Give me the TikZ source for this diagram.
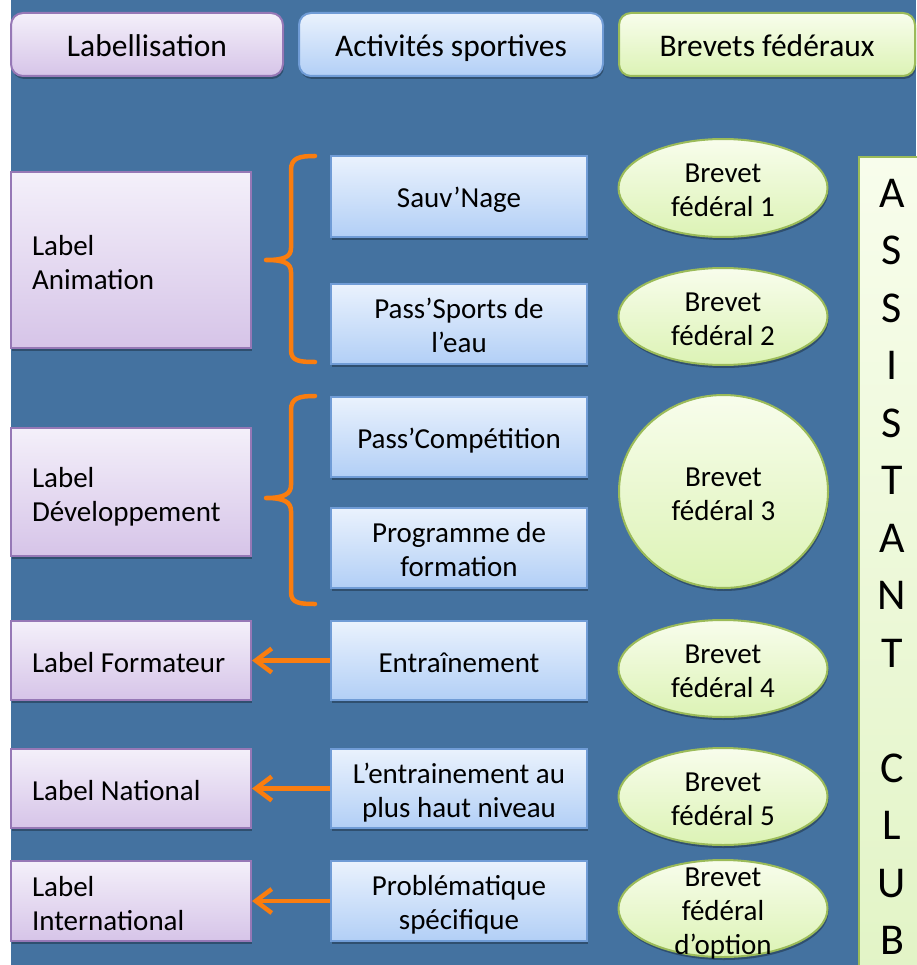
\documentclass[tikz,border=0pt]{standalone}
\usepackage{fontspec}
\setmainfont{Carlito}
\usetikzlibrary{shapes.geometric,shadows,arrows.meta}
\definecolor{bg}{RGB}{68,114,160}
\definecolor{labT}{RGB}{244,240,250}
\definecolor{labB}{RGB}{214,196,232}
\definecolor{labD}{RGB}{150,120,182}
\definecolor{actT}{RGB}{234,242,253}
\definecolor{actB}{RGB}{178,207,246}
\definecolor{actD}{RGB}{112,156,214}
\definecolor{brvT}{RGB}{248,253,236}
\definecolor{brvB}{RGB}{220,243,181}
\definecolor{brvD}{RGB}{155,187,89}
\definecolor{clubB}{RGB}{226,244,198}
\definecolor{orng}{RGB}{250,125,15}
\tikzset{
  shd/.style={drop shadow={shadow xshift=1pt,shadow yshift=-3pt,opacity=0.3,fill=black}},
  body/.style={font=\fontsize{29}{34}\selectfont, text=black,
    execute at begin node={\rule{0pt}{28pt}}, execute at end node={\rule[-5pt]{0pt}{5pt}}},
  ml/.style={execute at begin node={\rule{0pt}{30pt}}},
  head/.style={rounded corners=12pt, line width=2pt, minimum height=63pt, inner sep=0pt,
    font=\fontsize{31.5}{37}\selectfont, text=black, shd,
    execute at begin node={\rule{0pt}{31pt}}, execute at end node={\rule[-6pt]{0pt}{6pt}}},
  labbox/.style={rectangle, draw=labD, line width=2pt, top color=labT, bottom color=labB,
    minimum width=240pt, text width=198pt, inner xsep=21pt, inner ysep=0pt, align=flush left, body, shd},
  actbox/.style={rectangle, draw=actD, line width=2pt, top color=actT, bottom color=actB,
    minimum width=256pt, minimum height=80pt, text width=250pt, inner sep=0pt, align=flush center, body, shd},
  bfell/.style={ellipse, draw=brvD, line width=2pt, top color=brvT, bottom color=brvB,
    minimum width=209pt, minimum height=97pt, text width=146pt, inner sep=0pt, align=flush center, body, shd},
  brace/.style={draw=orng, line width=4.5pt, line cap=round, line join=round},
  arr/.style={draw=orng, line width=4.5pt, -{Straight Barb[length=16pt,width=24pt]}}
}
\begin{document}
\begin{tikzpicture}[x=1pt,y=-1pt]
\useasboundingbox (0,0) rectangle (916,965);
\fill[white] (0,0) rectangle (916,965);
\fill[bg] (11,0) rectangle (916,965);

% headers
\node[head, draw=labD, top color=labT, bottom color=labB, minimum width=272pt] (hlab) at (147,44.5) {Labellisation};
\node[head, draw=actD, top color=actT, bottom color=actB, minimum width=304pt] (hact) at (451,44.5) {Activités sportives};
\node[head, draw=brvD, top color=brvT, bottom color=brvB, minimum width=296pt] (hbrv) at (767,44.5) {Brevets fédéraux};

% labels
\node[labbox, ml, minimum height=176pt] (lan) at (131,260) {Label\\Animation};
\node[labbox, ml, minimum height=128pt] (ldv) at (131,492) {Label\\Développement};
\node[labbox, minimum height=79pt] (lfo) at (131,660.5) {Label Formateur};
\node[labbox, minimum height=79pt] (lna) at (131,788.5) {Label National};
\node[labbox, ml, minimum height=80pt] (lin) at (131,901) {Label\\International};

% activities
\node[actbox, minimum height=81pt] (sauv) at (459,196.5) {Sauv’Nage};
\node[actbox] (pass) at (459,324) {Pass’Sports de\\l’eau};
\node[actbox] (comp) at (459,437) {Pass’Compétition};
\node[actbox] (prog) at (459,548) {Programme de\\formation};
\node[actbox, minimum height=79pt] (entr) at (459,660.5) {Entraînement};
\node[actbox, minimum height=79pt] (haut) at (459,788.5) {L’entrainement au\\plus haut niveau};
\node[actbox] (prob) at (459,901) {Problématique\\spécifique};

% brevets
\node[bfell, minimum height=98pt] (bf1) at (723,188) {Brevet\\fédéral 1};
\node[bfell] (bf2) at (723,316.5) {Brevet\\fédéral 2};
\node[bfell, minimum height=193pt] (bf3) at (723.5,491.5) {Brevet\\fédéral 3};
\node[bfell] (bf4) at (723,668.5) {Brevet\\fédéral 4};
\node[bfell] (bf5) at (723,796.5) {Brevet\\fédéral 5};
\node[bfell, text width=, execute at begin node={}, execute at end node={},
  label={[body, text width=146pt, align=flush center, inner sep=0pt]center:Brevet\\fédéral\\d’option}] (bf6) at (723,908.5) {};

% assistant club column
\node[rectangle, draw=brvD, line width=2pt, top color=brvT, bottom color=clubB,
  minimum width=66pt, minimum height=820pt, anchor=north west, inner sep=0pt, align=center,
  font=\fontsize{44}{57.5}\selectfont, shd] (club) at (858,156)
  {A\\S\\S\\I\\S\\T\\A\\N\\T\\\mbox{}\\C\\L\\U\\B};

% braces
\draw[brace] (315,156) .. controls (299,156) and (291,158) .. (291,170) -- (291,248)
  .. controls (291,257) and (284,260) .. (266,260)
  .. controls (284,260) and (291,263) .. (291,272) -- (291,350)
  .. controls (291,361) and (299,362) .. (315,362);
\draw[brace] (315,396) .. controls (299,396) and (291,398) .. (291,410) -- (291,485)
  .. controls (291,494) and (284,498) .. (266,498)
  .. controls (284,498) and (291,502) .. (291,511) -- (291,592)
  .. controls (291,603) and (299,604) .. (315,604);

% arrows
\draw[arr] (entr.west) -- (lfo.east);
\draw[arr] (haut.west) -- (lna.east);
\draw[arr] (prob.west) -- (lin.east);
\end{tikzpicture}
\end{document}
